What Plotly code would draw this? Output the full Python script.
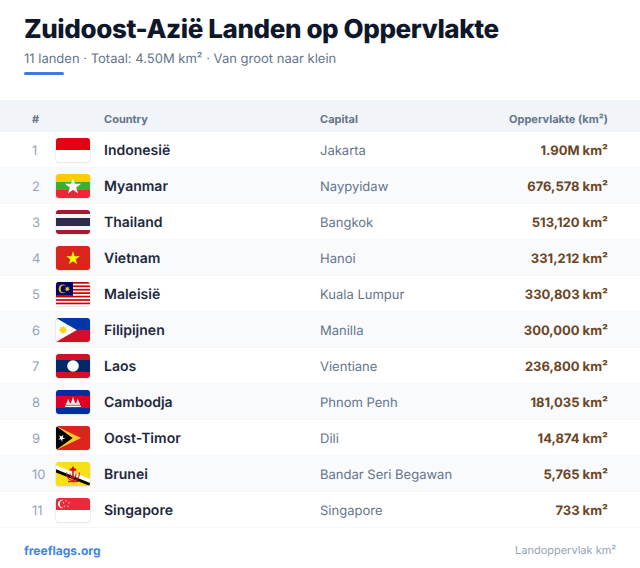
import base64
import math
import plotly.graph_objs as go

# table contents
ranks = [1, 2, 3, 4, 5, 6, 7, 8, 9, 10, 11]
countries = ['Indonesië', 'Myanmar', 'Thailand', 'Vietnam', 'Maleisië', 'Filipijnen',
             'Laos', 'Cambodja', 'Oost-Timor', 'Brunei', 'Singapore']
capitals = ['Jakarta', 'Naypyidaw', 'Bangkok', 'Hanoi', 'Kuala Lumpur', 'Manilla',
            'Vientiane', 'Phnom Penh', 'Dili', 'Bandar Seri Begawan', 'Singapore']
areas = ['1.90M km²', '676,578 km²', '513,120 km²', '331,212 km²', '330,803 km²', '300,000 km²',
         '236,800 km²', '181,035 km²', '14,874 km²', '5,765 km²', '733 km²']
flag_codes = ['id', 'mm', 'th', 'vn', 'my', 'ph', 'la', 'kh', 'tl', 'bn', 'sg']
headers = ['#', 'Country', 'Capital', 'Oppervlakte (km²)']

title = 'Zuidoost-Azië Landen op Oppervlakte'
subtitle = '11 landen · Totaal: 4.50M km² · Van groot naar klein'
source = 'freeflags.org'
note = 'Landoppervlak km²'

W = 640
H = 568
FONT = 'Inter'


def paper_y(px):
    return 1 - px / H


def data_y(px):
    return (px - 114) / 36


def star(cx, cy, r, fill, points=5, inner=0.382, rot=-90):
    pts = []
    for i in range(points * 2):
        rad = r if i % 2 == 0 else r * inner
        a = math.radians(rot + i * 180 / points)
        pts.append('%.2f,%.2f' % (cx + rad * math.cos(a), cy + rad * math.sin(a)))
    return '<polygon points="%s" fill="%s"/>' % (' '.join(pts), fill)


def rect(x, y, w, h, fill):
    return '<rect x="%s" y="%s" width="%s" height="%s" fill="%s"/>' % (x, y, w, h, fill)


def poly(points, fill):
    return '<polygon points="%s" fill="%s"/>' % (points, fill)


def circle(cx, cy, r, fill):
    return '<circle cx="%s" cy="%s" r="%s" fill="%s"/>' % (cx, cy, r, fill)


def flag_art(code):
    # every flag is drawn on a 34x24 box
    if code == 'id':
        return rect(0, 0, 34, 12, '#e70011') + rect(0, 12, 34, 12, '#ffffff')
    if code == 'mm':
        return (rect(0, 0, 34, 8, '#fecb00') + rect(0, 8, 34, 8, '#34b233') +
                rect(0, 16, 34, 8, '#ea2839') + star(17, 12.5, 8.6, '#ffffff'))
    if code == 'th':
        return (rect(0, 0, 34, 24, '#a51931') + rect(0, 4, 34, 16, '#f4f5f8') +
                rect(0, 8, 34, 8, '#2d2a4a'))
    if code == 'vn':
        return rect(0, 0, 34, 24, '#da251d') + star(17, 12.5, 7.2, '#ffff00')
    if code == 'my':
        s = rect(0, 0, 34, 24, '#ffffff')
        for i in range(0, 14, 2):
            s += rect(0, i * 24 / 14, 34, 24 / 14, '#cc0001')
        s += rect(0, 0, 17, 13.7, '#010066')
        s += circle(7, 6.9, 4.3, '#ffcc00') + circle(8.2, 6.9, 3.6, '#010066')
        s += star(11.3, 6.9, 2.9, '#ffcc00', points=7, inner=0.45)
        return s
    if code == 'ph':
        s = rect(0, 0, 34, 12, '#0038a8') + rect(0, 12, 34, 12, '#ce1126')
        s += poly('0,0 20.8,12 0,24', '#ffffff')
        s += star(7, 12, 4.6, '#fcd116', points=8, inner=0.55) + circle(7, 12, 2.4, '#fcd116')
        s += star(1.9, 3.3, 1, '#fcd116') + star(1.9, 20.7, 1, '#fcd116') + star(16.3, 12, 1, '#fcd116')
        return s
    if code == 'la':
        return (rect(0, 0, 34, 24, '#ce1126') + rect(0, 6, 34, 12, '#002868') +
                circle(17, 12, 5.8, '#ffffff'))
    if code == 'kh':
        s = rect(0, 0, 34, 24, '#032ea1') + rect(0, 6, 34, 12, '#e00025')
        s += rect(9, 15.6, 16, 1.4, '#ffffff') + rect(10, 13, 14, 2, '#e8d5d5')
        s += poly('15,13 17,6.8 19,13', '#ffffff')
        s += poly('10.6,13 12.2,8.8 13.8,13', '#f0e4e4') + poly('20.2,13 21.8,8.8 23.4,13', '#f0e4e4')
        return s
    if code == 'tl':
        return (rect(0, 0, 34, 24, '#dc241f') + poly('0,0 25,12 0,24', '#ffc726') +
                poly('0,0 16.7,12 0,24', '#000000') + star(5.6, 12, 3.7, '#ffffff', rot=-62))
    if code == 'bn':
        s = rect(0, 0, 34, 24, '#f7e017')
        s += poly('0,3.3 34,17 34,21 0,7.3', '#ffffff')
        s += poly('0,7.3 34,21 34,24 0,10.4', '#000000')
        s += '<g fill="none" stroke="#cf1126" stroke-width="1.1">'
        s += '<path d="M10.6,10.5 C10.5,16 13.5,18.4 17,18.4 C20.5,18.4 23.5,16 23.4,10.5"/>'
        s += '<path d="M14,11.5 C13.8,14.8 15.3,15.9 17,15.9 C18.7,15.9 20.2,14.8 20,11.5"/></g>'
        s += rect(16.2, 4.6, 1.6, 13, '#cf1126') + poly('13.6,7.2 17,5.2 20.4,7.2 20.4,8.8 13.6,8.8', '#cf1126')
        s += rect(12, 18.8, 10, 1.4, '#cf1126')
        return s
    if code == 'sg':
        s = rect(0, 0, 34, 12, '#ed2939') + rect(0, 12, 34, 12, '#ffffff')
        s += circle(6.2, 6, 4.2, '#ffffff') + circle(7.9, 6, 4.1, '#ed2939')
        for cx, cy in [(9.5, 2.8), (12.4, 4.9), (11.3, 8.3), (7.7, 8.3), (6.8, 4.9)]:
            s += star(cx + 0.6, cy, 0.95, '#ffffff')
        return s
    return ''


def flag_uri(code):
    # 2px of padding around the flag leaves room for the soft shadow
    svg = ('<svg xmlns="http://www.w3.org/2000/svg" width="152" height="112" viewBox="-2 -2 38 28">'
           '<rect x="-1" y="-0.2" width="36" height="25.6" rx="4" fill="#0f172a" opacity="0.04"/>'
           '<rect x="-0.5" y="0.2" width="35" height="24.6" rx="3.5" fill="#0f172a" opacity="0.06"/>'
           '<clipPath id="c"><rect width="34" height="24" rx="3"/></clipPath>'
           '<g clip-path="url(#c)">' + flag_art(code) + '</g></svg>')
    return 'data:image/svg+xml;base64,' + base64.b64encode(svg.encode('utf-8')).decode('ascii')


def column(x, labels, size, color, weight=400, pos='middle right', dy=2):
    # dy: the scatter text sits a little high of the row centre
    return go.Scatter(x=[x] * len(ranks), y=[r + dy / 36 for r in ranks], text=labels, mode='text',
                      textposition=pos,
                      textfont={'family': FONT, 'size': size, 'color': color, 'weight': weight},
                      hoverinfo='skip', showlegend=False)


def label(x, px, text, size, color, weight=400, anchor='left'):
    return dict(x=x, y=paper_y(px), xref='x', yref='paper', text=text, showarrow=False,
                xanchor=anchor, yanchor='middle',
                font={'family': FONT, 'size': size, 'color': color, 'weight': weight})


data = [
    column(32, ranks, 13, '#94a3b8'),
    column(104, countries, 14, '#1e293b', 600, dy=1),
    column(320, capitals, 13, '#64748b'),
    column(608, areas, 13, '#6b4423', 700, pos='middle left'),
]

# row stripes, header band and the lines around the table
a0, a1 = data_y(72), data_y(75)
accent = 'M 25.5 %f L 62.5 %f Q 64 %f 64 %f Q 64 %f 62.5 %f L 25.5 %f Q 24 %f 24 %f Q 24 %f 25.5 %f Z' % (
    a0, a0, a0, (a0 + a1) / 2, a1, a1, a1, a1, (a0 + a1) / 2, a0, a0)
shapes = [
    dict(type='rect', xref='paper', yref='paper', x0=0, x1=1, y0=paper_y(100), y1=paper_y(132),
         fillcolor='#f1f5f9', line_width=0, layer='below'),
    dict(type='path', xref='x', yref='y', path=accent, fillcolor='#3b7ddd', line_width=0, layer='below'),
]
for r in ranks:
    if r % 2 == 0:
        shapes.append(dict(type='rect', xref='paper', yref='y', x0=0, x1=1, y0=r - 0.5, y1=r + 0.5,
                           fillcolor='#f8fafc', line_width=0, layer='below'))
for r in ranks:
    shapes.append(dict(type='line', xref='paper', yref='y', x0=0, x1=1,
                       y0=r + 0.5 - 0.5 / 36, y1=r + 0.5 - 0.5 / 36,
                       line={'color': '#f5f7fa', 'width': 1}, layer='below'))

images = [dict(source=flag_uri(c), xref='x', yref='y', x=54, y=r, sizex=38, sizey=28 / 36,
               sizing='stretch', xanchor='left', yanchor='middle', layer='above')
          for r, c in zip(ranks, flag_codes)]

# annotations carry some padding, so left ones start early and right ones end late.
# the title gets -0.4px letter spacing below, which pulls it in by 7px on each side
annotations = [
    label(15, 29, title, 26, '#0f172a', 800),
    label(22, 57.5, subtitle, 13, '#64748b'),
    label(30, 119, headers[0], 11, '#64748b', 700),
    label(102, 119, headers[1], 11, '#64748b', 700),
    label(318, 119, headers[2], 11, '#64748b', 700),
    label(610, 119, headers[3], 11, '#64748b', 700, 'right'),
    label(22, 550, source, 12, '#4285e8', 700),
    label(618, 550, note, 11, '#94a3b8', 400, 'right'),
]

layout = go.Layout(
    width=W, height=H,
    margin={'l': 0, 'r': 0, 't': 0, 'b': 0},
    paper_bgcolor='#ffffff', plot_bgcolor='#ffffff',
    # row n sits at 114 + 36n pixels from the top
    xaxis={'range': [0, W], 'visible': False, 'fixedrange': True},
    yaxis={'range': [(H - 114) / 36, -114 / 36], 'visible': False, 'fixedrange': True},
    shapes=shapes, images=images, annotations=annotations, showlegend=False,
)

fig = go.Figure(data=data, layout=layout)

# plotly has no letter spacing setting, and its svg text is hinted unless told otherwise
post = """
document.body.style.margin = '0';
document.documentElement.style.overflow = 'hidden';
document.querySelectorAll('svg text').forEach(function (t) {
    t.style.textRendering = 'geometricPrecision';
});
document.querySelector('.annotation text').style.letterSpacing = '-0.4px';
"""
fig.write_html('out.html', config={'displayModeBar': False}, post_script=post)
